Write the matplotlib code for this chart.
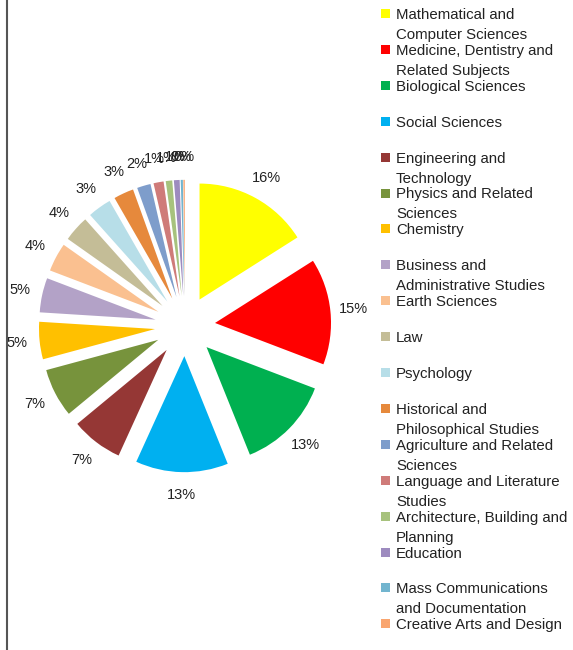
import matplotlib.pyplot as plt
from matplotlib.lines import Line2D
from matplotlib.patches import Rectangle

subjects = [
    'Mathematical and\nComputer Sciences',
    'Medicine, Dentistry and\nRelated Subjects',
    'Biological Sciences',
    'Social Sciences',
    'Engineering and\nTechnology',
    'Physics and Related\nSciences',
    'Chemistry',
    'Business and\nAdministrative Studies',
    'Earth Sciences',
    'Law',
    'Psychology',
    'Historical and\nPhilosophical Studies',
    'Agriculture and Related\nSciences',
    'Language and Literature\nStudies',
    'Architecture, Building and\nPlanning',
    'Education',
    'Mass Communications\nand Documentation',
    'Creative Arts and Design',
]
shares = [16.0, 14.8, 13.1, 12.9, 7.2, 6.8, 5.2, 4.8, 4.0, 3.6,
          3.3, 2.8, 1.9, 1.4, 0.9, 0.8, 0.3, 0.2]
colors = ['#FFFF00', '#FF0000', '#00B050', '#00B0F0', '#953735', '#77933C',
          '#FFC000', '#B3A2C7', '#FAC090', '#C4BD97', '#B7DEE8', '#E6893C',
          '#7E9DCB', '#CF7B79', '#A7C27D', '#9D8BBF', '#72B5CF', '#F9A56F']

plt.rcParams['font.family'] = ['Liberation Sans', 'DejaVu Sans']

W, H = 573, 650
fig = plt.figure(figsize=(W / 100, H / 100), dpi=100)

# pie centre ~ (185, 325) px, radius ~116 px
cx, cy, r = 185, 326, 116
lim = 1.6
ax = fig.add_axes([(cx - lim * r) / W, (H - cy - lim * r) / H,
                   2 * lim * r / W, 2 * lim * r / H])
ax.pie(shares, colors=colors, startangle=90, counterclock=False,
       explode=[0.26] * len(shares), autopct='%1.0f%%', pctdistance=1.2,
       wedgeprops=dict(linewidth=0), textprops=dict(fontsize=10.5, color='#222222'))
ax.set_xlim(-lim, lim)
ax.set_ylim(-lim, lim)
ax.set_aspect('auto')
ax.axis('off')

# legend drawn by hand: marker on first line, every entry two lines tall
y0, step, line_gap = 13.5, 35.9, 20
for i, (name, c) in enumerate(zip(subjects, colors)):
    y = y0 + i * step
    fig.patches.append(Rectangle((381 / W, 1 - (y + 4.5) / H), 9 / W, 9 / H,
                                 transform=fig.transFigure, facecolor=c,
                                 edgecolor='none'))
    for j, line in enumerate(name.split('\n')):
        fig.text(396 / W, 1 - (y + j * line_gap) / H, line, fontsize=10.8,
                 color='#222222', va='center_baseline', ha='left')

fig.add_artist(Line2D([6.5 / W, 6.5 / W], [0, 1], color='#555555', lw=1.5,
                      transform=fig.transFigure))

fig.savefig('out.png', dpi=100)
